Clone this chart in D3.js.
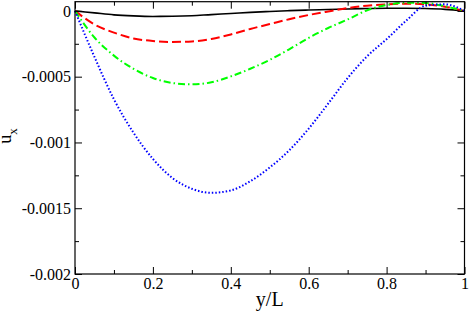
<!DOCTYPE html>
<html>
<head>
<meta charset="utf-8">
<script src="https://cdn.jsdelivr.net/npm/d3@7"></script>
<style>
  body { margin: 0; background: #fff; }
  svg { display: block; }
</style>
</head>
<body>
<div id="chart"></div>
<script>
// y/L positions the profiles were read at
var yL = [0, 0.05, 0.1, 0.15, 0.2, 0.25, 0.3, 0.35, 0.4, 0.45, 0.5,
          0.55, 0.6, 0.65, 0.7, 0.75, 0.8, 0.85, 0.9, 0.95, 1];

// u_x profiles
var uBlack = [0, -0.000015, -0.00003, -0.000038, -0.000042, -0.000041, -0.000037, -0.000028, -0.00002, -0.000011, -0.000004,
              0.000002, 0.000007, 0.000011, 0.000015, 0.000018, 0.00002, 0.00002, 0.000018, 0.000012, 0];
var uRed   = [0, -0.000103, -0.000165, -0.000209, -0.000229, -0.000236, -0.000232, -0.000213, -0.000179, -0.000137, -0.0001,
              -0.000063, -0.000031, -0.000004, 0.000021, 0.00004, 0.00005, 0.000055, 0.00005, 0.000032, 0];
var uGreen = [0, -0.000202, -0.00034, -0.00044, -0.00051, -0.000548, -0.000558, -0.000543, -0.000498, -0.00044, -0.000372,
              -0.000292, -0.000205, -0.00013, -0.000065, 0.000005, 0.000045, 0.000062, 0.00006, 0.000035, 0];
var uBlue  = [0, -0.00035, -0.000672, -0.000925, -0.001125, -0.00127, -0.001352, -0.001383, -0.001365, -0.001295, -0.00119,
              -0.00106, -0.000895, -0.000705, -0.00051, -0.000345, -0.000215, -0.000075, 0.00004, 0.00005, 0];

// ticks
var xMajor = [0, 0.2, 0.4, 0.6, 0.8, 1];
var xMinor = [0.1, 0.3, 0.5, 0.7, 0.9];
var xLabels = ["0", "0.2", "0.4", "0.6", "0.8", "1"];
var yMajor = [-0.002, -0.0015, -0.001, -0.0005, 0];
var yMinor = [-0.00175, -0.00125, -0.00075, -0.00025];
var yLabels = ["-0.002", "-0.0015", "-0.001", "-0.0005", "0"];

var SERIF = "'Liberation Serif', 'Times New Roman', serif";

var width = 469, height = 312;
var plotL = 75, plotR = 464.5, plotT = 1.7, plotB = 274;

var svg = d3.select("#chart").append("svg")
  .attr("width", width)
  .attr("height", height);

var x = d3.scaleLinear().domain([0, 1]).range([plotL, plotR]);
var y = d3.scaleLinear().domain([-0.002, 0.00007]).range([plotB, plotT]);

// curves
var series = [
  { vals: uBlack, color: "#000000", dash: null, w: 1.6 },
  { vals: uRed,   color: "#ff0000", dash: "9,4", w: 2 },
  { vals: uGreen, color: "#00ff00", dash: "7,3,1.5,3", w: 2 },
  { vals: uBlue,  color: "#0000ff", dash: "1.5,2", w: 2 }
];

var line = d3.line()
  .x(function(d) { return x(d[0]); })
  .y(function(d) { return y(d[1]); })
  .curve(d3.curveMonotoneX);

series.forEach(function(s) {
  svg.append("path")
    .datum(yL.map(function(v, i) { return [v, s.vals[i]]; }))
    .attr("d", line)
    .attr("fill", "none")
    .attr("stroke", s.color)
    .attr("stroke-width", s.w)
    .attr("stroke-dasharray", s.dash);
});

// axes, ticks pointing inward
function addAxis(axis, tx, ty) {
  var g = svg.append("g")
    .attr("transform", "translate(" + tx + "," + ty + ")")
    .call(axis);
  g.select(".domain").remove();
  g.selectAll("text")
    .style("font-family", SERIF)
    .style("font-size", "16px")
    .attr("fill", "#000");
  g.selectAll("line").attr("stroke", "#000");
  return g;
}

addAxis(d3.axisBottom(x).tickValues(xMajor).tickSize(-7).tickPadding(4)
  .tickFormat(function(d, i) { return xLabels[i]; }), 0, plotB);
addAxis(d3.axisBottom(x).tickValues(xMinor).tickSize(-4).tickFormat(""), 0, plotB);
addAxis(d3.axisTop(x).tickValues(xMajor).tickSize(-7).tickFormat(""), 0, plotT);
addAxis(d3.axisTop(x).tickValues(xMinor).tickSize(-4).tickFormat(""), 0, plotT);

addAxis(d3.axisLeft(y).tickValues(yMajor).tickSize(-7).tickPadding(4)
  .tickFormat(function(d, i) { return yLabels[i]; }), plotL, 0);
addAxis(d3.axisLeft(y).tickValues(yMinor).tickSize(-4).tickFormat(""), plotL, 0);
addAxis(d3.axisRight(y).tickValues(yMajor).tickSize(-7).tickFormat(""), plotR, 0);
addAxis(d3.axisRight(y).tickValues(yMinor).tickSize(-4).tickFormat(""), plotR, 0);

// frame
svg.append("rect")
  .attr("x", plotL)
  .attr("y", plotT)
  .attr("width", plotR - plotL)
  .attr("height", plotB - plotT)
  .attr("fill", "none")
  .attr("stroke", "#000")
  .attr("stroke-width", 1.2);

// axis titles
svg.append("text")
  .attr("x", (plotL + plotR) / 2)
  .attr("y", 306)
  .attr("text-anchor", "middle")
  .style("font-family", SERIF)
  .style("font-size", "20px")
  .text("y/L");

var yt = svg.append("text")
  .attr("transform", "translate(11,136) rotate(-90)")
  .attr("text-anchor", "middle")
  .style("font-family", SERIF)
  .style("font-size", "18px");
yt.append("tspan").text("u");
yt.append("tspan").style("font-size", "13px").attr("dy", 6).text("x");
</script>
</body>
</html>
